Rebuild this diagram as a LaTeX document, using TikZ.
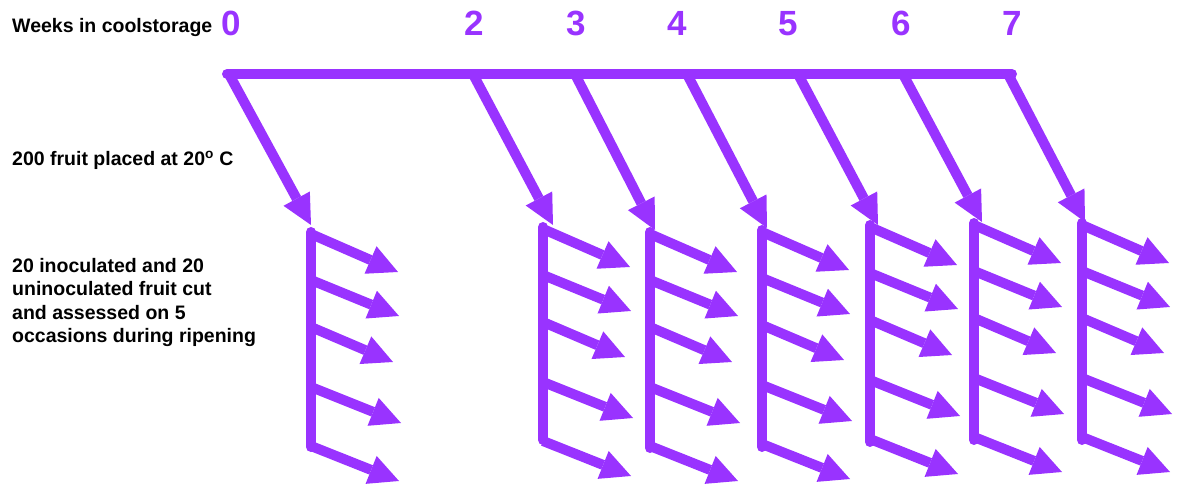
\documentclass[tikz,border=0pt]{standalone}
\usepackage{fontspec}
\setmainfont{Liberation Sans}
\usetikzlibrary{arrows.meta}
\definecolor{vio}{RGB}{153,51,255}
\tikzset{
  pline/.style={line width=10bp, draw=vio},
  barline/.style={pline, line cap=round},
  bigarrow/.style={pline, -{Triangle[length=30bp,width=30bp,line width=0pt]}},
  lbl/.style={inner sep=0pt, font=\fontsize{19.5bp}{23.3bp}\selectfont\bfseries, text=black},
  num/.style={inner sep=0pt, anchor=base, font=\fontsize{35bp}{40bp}\selectfont\bfseries, text=vio},
}
\begin{document}
\begin{tikzpicture}[x=1bp, y=-1bp]
\useasboundingbox (0,0) rectangle (1178,484);

% row labels (the base of a multi-line node is its last line)
\node[lbl, anchor=base west] (weeks) at (12,33) {Weeks in coolstorage};
\node[lbl, anchor=base west] (placed) at (12,166) {200 fruit placed at 20\textsuperscript{o} C};
\node[lbl, anchor=base west, align=left] (cut) at (12,342.6)
  {20 inoculated and 20\\uninoculated fruit cut\\and assessed on 5\\occasions during ripening};

% storage time line
\coordinate (tl0) at (227,74);
\coordinate (tl1) at (1012,74);
\draw[barline] (tl0) -- (tl1);

% one group per removal week: label, drop arrow, ripening bar, five sampling arrows
\foreach \w/\nx/\sx/\bx/\ytop/\ybot/\tx/\ty in {
    0/231/230/311/232/447/311/225,
    2/474/474/543/227/440/553/225,
    3/576/576/650/232/448/655/230,
    4/677/688/762/230/447/767/228,
    5/788/799/870/225/442/878/225,
    6/901/904/974/223/440/982/222,
    7/1012/1009/1082/223/440/1085/222} {
  \node[num] (n\w) at (\nx,36) {\w};
  \coordinate (s\w) at (\sx,76);
  \coordinate (e\w) at (\tx,\ty);
  \draw[bigarrow] (s\w) -- (e\w);
  \coordinate (bt\w) at (\bx,\ytop);
  \coordinate (bb\w) at (\bx,\ybot);
  \draw[barline] (bt\w) -- (bb\w);
  \foreach \k/\so/\dx/\dy in {1/2/87/40, 2/48/88/84, 3/95/82/130, 4/155/90/191, 5/214/88/249} {
    \coordinate (a\w\k) at (\bx,\ytop+\so);
    \coordinate (b\w\k) at (\bx+\dx,\ytop+\dy);
    \draw[bigarrow] (a\w\k) -- (b\w\k);
  }
}
\end{tikzpicture}
\end{document}
